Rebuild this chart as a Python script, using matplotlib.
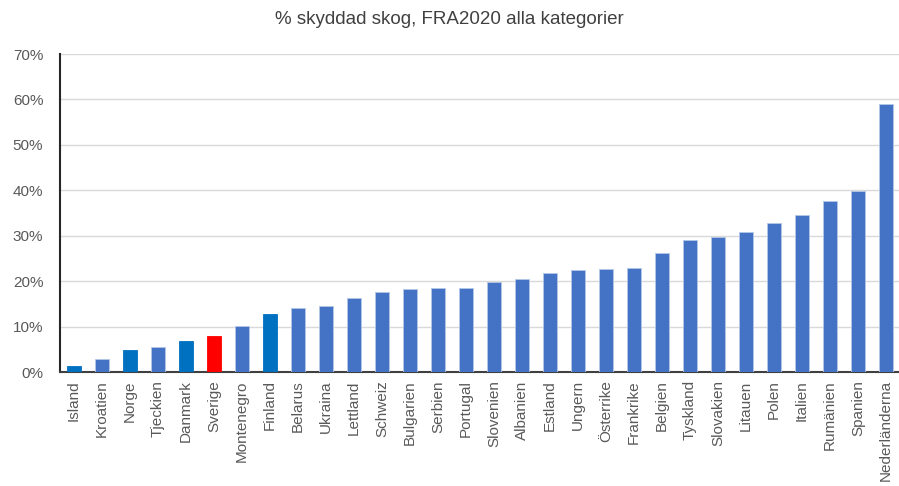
import matplotlib
matplotlib.use('Agg')
import matplotlib.pyplot as plt
from matplotlib.ticker import PercentFormatter

plt.rcParams['font.family'] = ['Liberation Sans', 'DejaVu Sans']

countries = ['Island', 'Kroatien', 'Norge', 'Tjeckien', 'Danmark', 'Sverige',
             'Montenegro', 'Finland', 'Belarus', 'Ukraina', 'Lettland', 'Schweiz',
             'Bulgarien', 'Serbien', 'Portugal', 'Slovenien', 'Albanien', 'Estland',
             'Ungern', 'Österrike', 'Frankrike', 'Belgien', 'Tyskland', 'Slovakien',
             'Litauen', 'Polen', 'Italien', 'Rumänien', 'Spanien', 'Nederländerna']
share = [1.3, 2.9, 4.8, 5.5, 6.8, 7.9,
         10.2, 12.8, 14.1, 14.5, 16.2, 17.7,
         18.2, 18.4, 18.6, 19.8, 20.5, 21.8,
         22.5, 22.6, 22.8, 26.1, 29.0, 29.7,
         30.9, 32.7, 34.5, 37.6, 39.9, 58.9]
nordic = ['Island', 'Norge', 'Danmark', 'Finland']
highlight = 'Sverige'

colors = []
edges = []
for c in countries:
    if c == highlight:
        colors.append('#FF0000')
        edges.append('#FF0000')
    elif c in nordic:
        colors.append('#0070C0')
        edges.append('#0070C0')
    else:
        colors.append('#4472C4')
        edges.append('#B4C7E7')

fig = plt.figure(figsize=(8.99, 4.86), dpi=100)
ax = fig.add_axes([60 / 899, 114 / 486, 840 / 899, 318 / 486])

x = list(range(len(countries)))
ax.bar(x, share, width=0.47, color=colors, edgecolor=edges, linewidth=0.6, zorder=3)

ax.set_xlim(-0.5, len(countries) - 0.5)
ax.set_ylim(0, 70)
ax.set_yticks(range(0, 71, 10))
ax.yaxis.set_major_formatter(PercentFormatter(decimals=0))
ax.grid(axis='y', color='#D9D9D9', linewidth=1, zorder=0)

ax.set_xticks(x)
ax.set_xticklabels(countries, rotation=90)
ax.tick_params(axis='both', length=0, labelsize=11, colors='#595959', pad=6)
ax.tick_params(axis='y', pad=12)

for s in ['top', 'right']:
    ax.spines[s].set_visible(False)
ax.spines['left'].set_color('#262626')
ax.spines['left'].set_linewidth(1.5)
ax.spines['bottom'].set_color('#404040')
ax.spines['bottom'].set_linewidth(1.5)

fig.text(0.5, 1 - 20 / 486, '% skyddad skog, FRA2020 alla kategorier',
         ha='center', va='center', fontsize=13.5, color='#404040')

fig.savefig('out.png', dpi=100)
